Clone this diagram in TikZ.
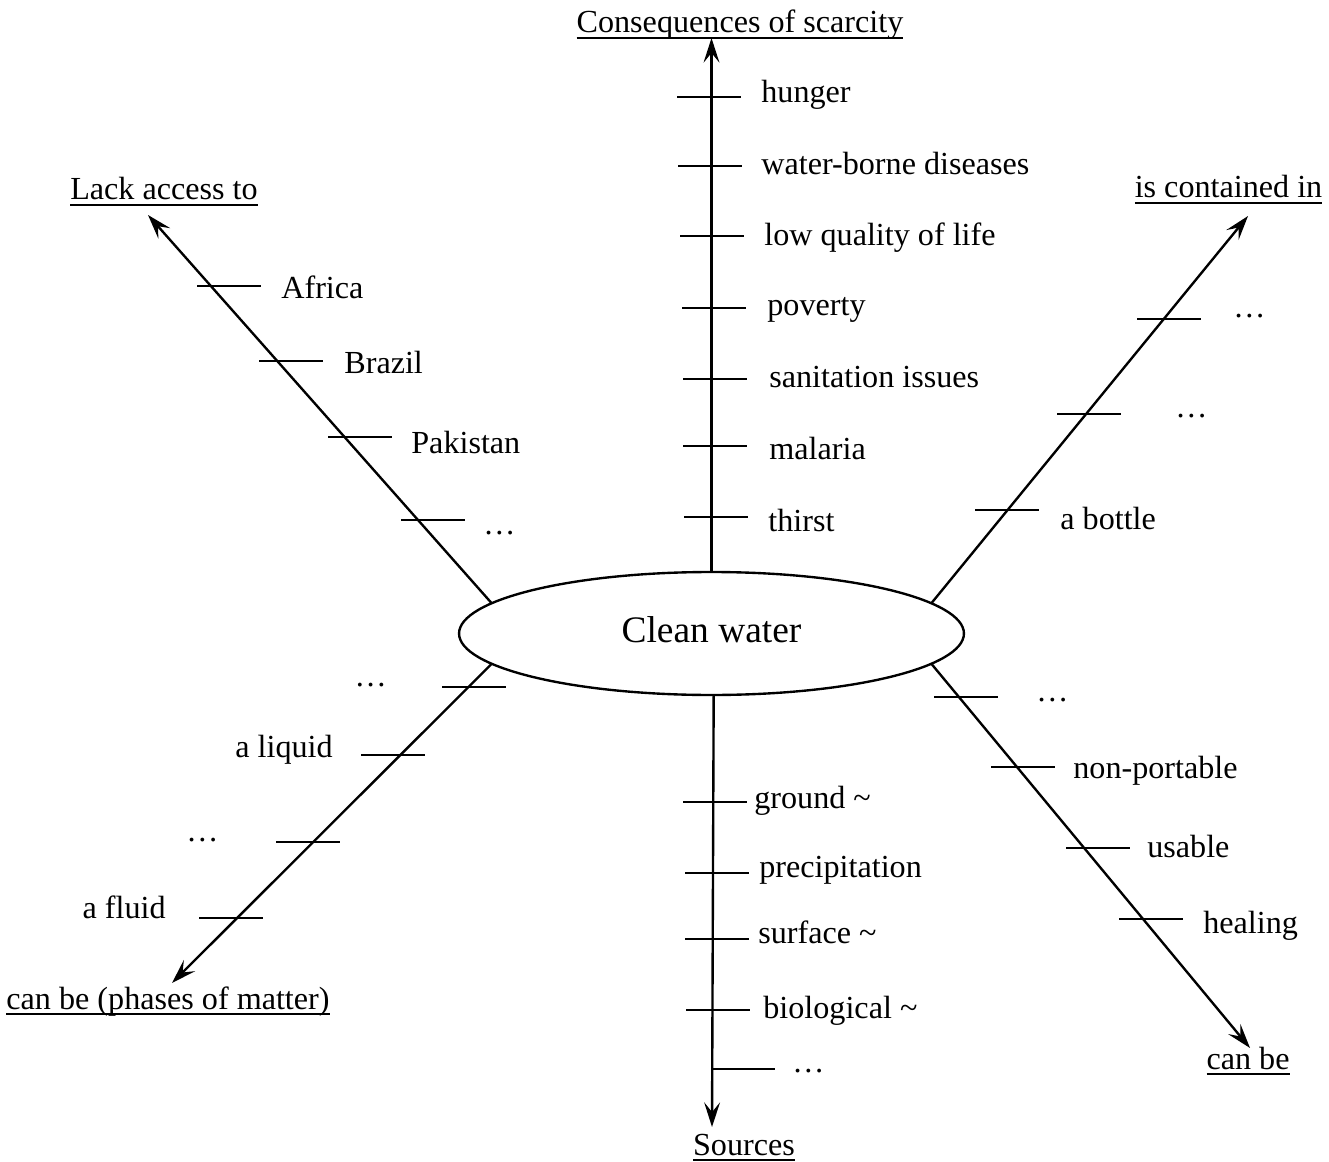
\documentclass[tikz,border=0pt]{standalone}
\usepackage{fontspec}
\setmainfont{Liberation Serif}
\usetikzlibrary{arrows.meta,shapes.geometric}
\newsavebox{\ulbox}
\newcommand{\ulabel}[1]{\sbox{\ulbox}{#1}\rlap{\rule[-3.5pt]{\wd\ulbox}{1.3pt}}\usebox{\ulbox}}
\tikzset{
  branch/.style={line width=1.35pt,-{Stealth[length=14pt,width=9pt,inset=5.5pt]}},
  tickline/.style={line width=1.4pt},
  leaf/.style={inner sep=0pt,font=\fontsize{18.3}{22}\selectfont},
  heading/.style={leaf,anchor=base},
}
\begin{document}
\begin{tikzpicture}[x=0.02cm,y=-0.02cm]
  \useasboundingbox (0,0) rectangle (1329,1162);
  \node[draw,ellipse,line width=1.35pt,minimum width=10.1cm,minimum height=2.46cm,inner sep=0pt,
        text height=10.8pt,text depth=0pt,font=\fontsize{21.3}{26}\selectfont] (cw) at (711.5,633.5) {Clean water};

  % consequences of scarcity
  \coordinate (tipC) at (711.5,38);
  \draw[branch] (cw.north) -- (tipC);
  \node[heading] (hC) at (740,33) {\ulabel{Consequences of scarcity}};
  \foreach \tx/\ty/\lx/\ly/\txt [count=\i] in {677/97/761/103/hunger,
      678/166/761/175/water-borne diseases, 680/236/764/246/low quality of life,
      682/308/767/316/poverty, 683/379/769/387/sanitation issues,
      683/446/769/459/malaria, 684/517/768/531/thirst}{
    \draw[tickline] (\tx,\ty) -- ++(64,0);
    \node[leaf,anchor=base west] (c\i) at (\lx,\ly) {\txt};
  }

  % lack access to
  \coordinate (tipL) at (148,215);
  \draw[branch] (cw.172) -- (tipL);
  \node[heading] (hL) at (164,200) {\ulabel{Lack access to}};
  \foreach \tx/\ty/\lx/\ly/\txt [count=\i] in {197/286/281/298/Africa,
      259/361/344/374/Brazil, 328/437/411/453/Pakistan, 401/520/483/534/…}{
    \draw[tickline] (\tx,\ty) -- ++(64,0);
    \node[leaf,anchor=base west] (l\i) at (\lx,\ly) {\txt};
  }

  % is contained in
  \coordinate (tipR) at (1248,216);
  \draw[branch] (cw.8.6) -- (tipR);
  \node[heading] (hR) at (1228.5,198) {\ulabel{is contained in}};
  \foreach \tx/\ty/\lx/\ly/\txt [count=\i] in {1137/319/1233/317/…,
      1057/414/1175/417/…, 975/510/1060/529/a bottle}{
    \draw[tickline] (\tx,\ty) -- ++(64,0);
    \node[leaf,anchor=base west] (r\i) at (\lx,\ly) {\txt};
  }

  % can be (phases of matter)
  \coordinate (tipP) at (172,983);
  \draw[branch] (cw.188.7) -- (tipP);
  \node[heading] (hP) at (168,1009) {\ulabel{can be (phases of matter)}};
  \foreach \tx/\ty/\lx/\ly/\txt [count=\i] in {442/687/387/686/…,
      361/755/333/757/a liquid, 276/842/219/841/…, 199/918/166/918/a fluid}{
    \draw[tickline] (\tx,\ty) -- ++(64,0);
    \node[leaf,anchor=base east] (p\i) at (\lx,\ly) {\txt};
  }

  % sources
  \coordinate (tipS) at (712,1127);
  \draw[branch] (cw.-88) -- (tipS);
  \node[heading] (hS) at (744,1155) {\ulabel{Sources}};
  \foreach \tx/\ty/\lx/\ly/\txt [count=\i] in {683/802/754/808/ground \textasciitilde,
      685/873/759/877/precipitation, 685/939/758/943/surface \textasciitilde,
      686/1010/763/1018/biological \textasciitilde}{
    \draw[tickline] (\tx,\ty) -- ++(64,0);
    \node[leaf,anchor=base west] (s\i) at (\lx,\ly) {\txt};
  }
  \draw[tickline] (713,1069) -- ++(62,0);
  \node[leaf,anchor=base west] (s5) at (792,1072) {…};

  % can be
  \coordinate (tipB) at (1250,1048);
  \draw[branch] (cw.-8.2) -- (tipB);
  \node[heading] (hB) at (1248,1069) {\ulabel{can be}};
  \foreach \tx/\ty/\lx/\ly/\txt [count=\i] in {934/697/1036/701/…,
      991/767/1073/778/non-portable, 1066/848/1147/857/usable, 1119/919/1203/933/healing}{
    \draw[tickline] (\tx,\ty) -- ++(64,0);
    \node[leaf,anchor=base west] (b\i) at (\lx,\ly) {\txt};
  }
\end{tikzpicture}
\end{document}
